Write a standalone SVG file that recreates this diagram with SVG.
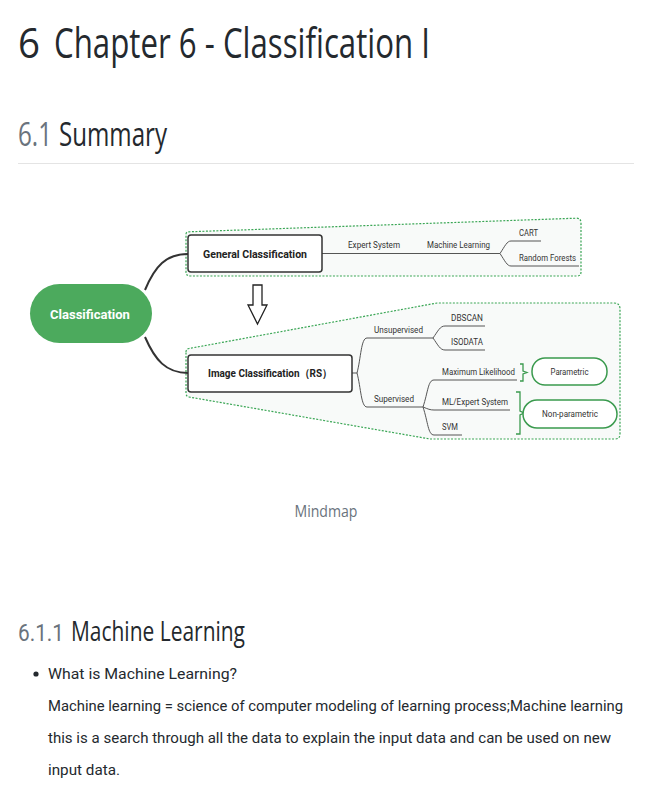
<svg xmlns="http://www.w3.org/2000/svg" width="650" height="800" viewBox="0 0 650 800">
<style>
.t{font-family:"Open Sans","Noto Sans",sans-serif;fill:#24292e}
.b{font-family:"Roboto","Open Sans",sans-serif;fill:#24292e;font-size:15.5px}
.g{fill:#6a737d}
.lbl{font-family:"Roboto","Liberation Sans",sans-serif;font-size:9px;fill:#333}
.box{fill:#fff;stroke:#333;stroke-width:1.5}
.bold{font-family:"Roboto","Liberation Sans",sans-serif;font-size:11px;font-weight:bold;fill:#222}
.area{fill:#f8faf9;stroke:#3aa655;stroke-width:1.2;stroke-dasharray:2 1.5}
.ln{fill:none;stroke:#555;stroke-width:1}
.main{fill:none;stroke:#333;stroke-width:2}
.gp{fill:#fff;stroke:#3a9a4e;stroke-width:1.5}
.br{fill:none;stroke:#3a9a4e;stroke-width:1.3}
</style>
<rect width="650" height="800" fill="#fff"/>
<text class="t" x="18" y="58" font-size="42" textLength="22" lengthAdjust="spacingAndGlyphs">6</text>
<text class="t" x="54" y="58" font-size="42" textLength="376" lengthAdjust="spacingAndGlyphs">Chapter 6 - Classification I</text>
<text class="t g" x="18" y="146" font-size="32" textLength="34" lengthAdjust="spacingAndGlyphs">6.1</text>
<text class="t" x="59" y="146" font-size="32" textLength="108" lengthAdjust="spacingAndGlyphs">Summary</text>
<line x1="18" y1="163.5" x2="634" y2="163.5" stroke="#e4e4e4" stroke-width="1"/>

<g id="area-general"><path class="area" d="M186,234 Q186,232 189,231.8 L576,218.2 Q581,218 581,223 L581,272 Q581,276 577,276 L190,276 Q186,276 186,272 Z"/></g>
<g id="area-image"><path class="area" d="M186,352 Q186,349 189,348.5 L437,303 L614,303 Q620,303 620,309 L620,434 Q620,439 615,439 L430,439 L189,397 Q186,396.5 186,393 Z"/></g>

<g id="connectors">
<path class="main" d="M145,290 C155,266 166,254 188,254"/>
<path class="main" d="M145,337 C155,360 166,373 188,373"/>
<path class="ln" d="M322,253.5 L500,253.5 M500,253.5 C505,246 507,241 511,241 L541,241 M500,253.5 C505,261 507,266 511,266 L579,266"/>
<path class="ln" d="M352,373 L357,373 M357,373 C361,358 361,338 367,338 L433,338 M357,373 C361,388 361,407 367,407 L423,407"/>
<path class="ln" d="M433,338 C438,331 440,326 445,326 L485,326 M433,338 C438,345 440,350 445,350 L485,350"/>
<path class="ln" d="M423,407 C428,392 428,380 434,380 L517,380 M423,407 C428,409 430,410 434,410 L510,410 M423,407 C428,422 428,435 434,435 L462,435"/>
<path fill="#fff" stroke="#222" stroke-width="1.3" d="M253,285 L262,285 L262,305 L267,305 L257.5,324 L248,305 L253,305 Z"/>
</g>

<g id="root"><rect x="30" y="284" width="122" height="59" rx="29.5" fill="#4caa5d"/>
<text x="90" y="318.5" text-anchor="middle" font-family="Roboto,'Liberation Sans',sans-serif" font-size="13" font-weight="bold" fill="#fff">Classification</text></g>

<g id="general"><rect class="box" x="188" y="235" width="134" height="37" rx="3"/>
<text class="bold" x="255" y="258" text-anchor="middle" textLength="104" lengthAdjust="spacingAndGlyphs">General Classification</text></g>
<g id="expert"><text class="lbl" x="348" y="248" textLength="52" lengthAdjust="spacingAndGlyphs">Expert System</text></g>
<g id="ml"><text class="lbl" x="427" y="248" textLength="63" lengthAdjust="spacingAndGlyphs">Machine Learning</text></g>
<g id="cart"><text class="lbl" x="519" y="236" textLength="19" lengthAdjust="spacingAndGlyphs">CART</text></g>
<g id="rf"><text class="lbl" x="519" y="261" textLength="57" lengthAdjust="spacingAndGlyphs">Random Forests</text></g>

<g id="image"><rect class="box" x="188" y="355" width="164" height="37" rx="3"/>
<text class="bold" x="270" y="377" text-anchor="middle" textLength="124" lengthAdjust="spacingAndGlyphs">Image Classification（RS）</text></g>
<g id="unsup"><text class="lbl" x="374" y="333" textLength="49" lengthAdjust="spacingAndGlyphs">Unsupervised</text></g>
<g id="dbscan"><text class="lbl" x="451" y="321" textLength="32" lengthAdjust="spacingAndGlyphs">DBSCAN</text></g>
<g id="isodata"><text class="lbl" x="451" y="345" textLength="32" lengthAdjust="spacingAndGlyphs">ISODATA</text></g>
<g id="sup"><text class="lbl" x="374" y="402" textLength="40" lengthAdjust="spacingAndGlyphs">Supervised</text></g>
<g id="mlh"><text class="lbl" x="442" y="375" textLength="73" lengthAdjust="spacingAndGlyphs">Maximum Likelihood</text></g>
<g id="mles"><text class="lbl" x="442" y="405" textLength="66" lengthAdjust="spacingAndGlyphs">ML/Expert System</text></g>
<g id="svm"><text class="lbl" x="442" y="430" textLength="16" lengthAdjust="spacingAndGlyphs">SVM</text></g>

<g id="parametric"><path class="br" d="M520,364 L523,364 L523,371 L527,372.5 L523,374 L523,381 L520,381"/>
<rect class="gp" x="532" y="358" width="75" height="27" rx="13"/>
<text class="lbl" x="569.5" y="375" text-anchor="middle" textLength="38" lengthAdjust="spacingAndGlyphs" fill="#222">Parametric</text></g>
<g id="nonparametric"><path class="br" d="M516,392 L520,392 L520,411 L524,413 L520,415 L520,434 L516,434"/>
<rect class="gp" x="523" y="400" width="94" height="28" rx="14"/>
<text class="lbl" x="570" y="417" text-anchor="middle" textLength="56" lengthAdjust="spacingAndGlyphs" fill="#222">Non-parametric</text></g>

<text class="t g" x="326" y="517" font-size="17" text-anchor="middle" textLength="63" lengthAdjust="spacingAndGlyphs">Mindmap</text>

<text class="g" x="18" y="641" font-family="Roboto,sans-serif" font-size="24" textLength="46" lengthAdjust="spacingAndGlyphs">6.1.1</text>
<text class="t" x="71" y="641" font-size="27" textLength="174" lengthAdjust="spacingAndGlyphs">Machine Learning</text>
<circle cx="36" cy="674" r="2.6" fill="#24292e"/>
<text class="b" x="48" y="679" textLength="189" lengthAdjust="spacingAndGlyphs">What is Machine Learning?</text>
<text class="b" x="48" y="711" font-size="15" textLength="575" lengthAdjust="spacingAndGlyphs">Machine learning = science of computer modeling of learning process;Machine learning</text>
<text class="b" x="48" y="743" textLength="563" lengthAdjust="spacingAndGlyphs">this is a search through all the data to explain the input data and can be used on new</text>
<text class="b" x="48" y="775" textLength="72" lengthAdjust="spacingAndGlyphs">input data.</text>
</svg>
